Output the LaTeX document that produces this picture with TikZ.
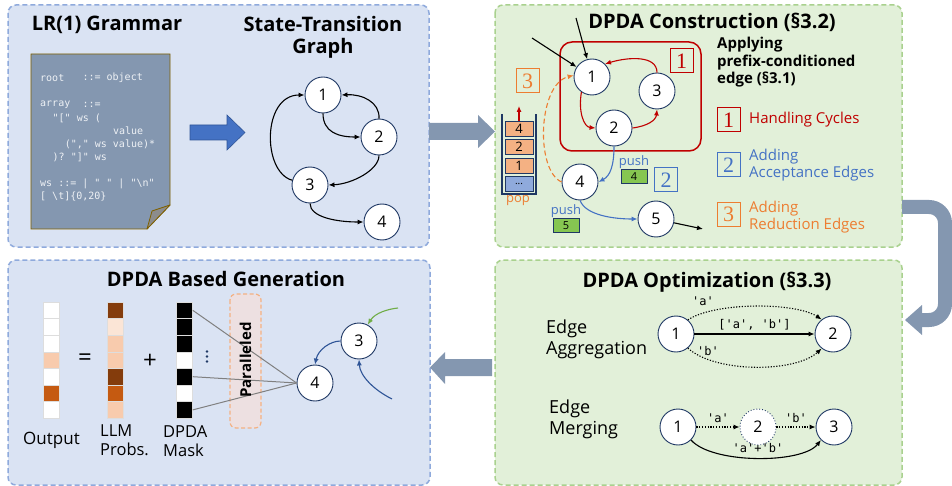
\documentclass[tikz,border=0pt]{standalone}
\usepackage{fontspec}
\setmainfont{Open Sans}
\setsansfont{Open Sans}
\setmonofont{DejaVu Sans Mono}
\newfontfamily\serifnum{Liberation Serif}
\usetikzlibrary{arrows.meta}

\definecolor{panelblue}{HTML}{DAE3F3}
\definecolor{edgeblue}{HTML}{8FAADC}
\definecolor{panelgreen}{HTML}{E2F0D9}
\definecolor{edgegreen}{HTML}{A9D18E}
\definecolor{slate}{HTML}{8497B0}
\definecolor{navy}{HTML}{1F3864}
\definecolor{cred}{HTML}{C00000}
\definecolor{cblue}{HTML}{4472C4}
\definecolor{dblue}{HTML}{2F5597}
\definecolor{corange}{HTML}{ED7D31}
\definecolor{lorange}{HTML}{F4B183}
\definecolor{pushgreen}{HTML}{86C651}
\definecolor{leafgreen}{HTML}{70AD47}
\definecolor{dkbrown}{HTML}{843C0C}
\definecolor{mdorange}{HTML}{C55A11}
\definecolor{ltorange}{HTML}{F8CBAD}
\definecolor{paleorange}{HTML}{FBE5D6}
\definecolor{gold}{HTML}{7F6000}
\definecolor{codewhite}{HTML}{EEF1F5}
\definecolor{cellline}{HTML}{DDDDDD}
\definecolor{parfill}{HTML}{EDE0E1}

\tikzset{
  bpanel/.style={draw=edgeblue, fill=panelblue, line width=1.5pt, dash pattern=on 5pt off 3pt, rounded corners=8pt},
  gpanel/.style={draw=edgegreen, fill=panelgreen, line width=1.5pt, dash pattern=on 5pt off 3pt, rounded corners=8pt},
  ttl/.style={font=\bfseries\fontsize{20}{22}\selectfont, align=center, inner sep=0pt},
  st/.style={circle, draw=navy, fill=white, line width=0.9pt, minimum size=36pt, inner sep=0pt, font=\fontsize{16}{16}\selectfont},
  arr/.style={line width=1.1pt, -{Latex[length=6pt,width=5pt]}},
  dotarr/.style={arr, dash pattern=on 1.2pt off 1.6pt},
  code/.style={anchor=west, inner sep=0pt, text=codewhite, font=\ttfamily\fontsize{10}{10}\selectfont},
  numbox/.style={draw=#1, text=#1, line width=1pt, minimum width=23pt, minimum height=24pt, inner sep=0pt, font=\serifnum\fontsize{22}{22}\selectfont},
  chip/.style={draw=navy, fill=pushgreen, line width=0.8pt, minimum width=26pt, minimum height=14pt, inner sep=0pt, font=\fontsize{11}{11}\selectfont},
  cell/.style={draw=navy, fill=#1, line width=0.8pt, minimum width=28pt, minimum height=15pt, inner sep=0pt, font=\fontsize{13}{13}\selectfont},
  vcell/.style={minimum width=16pt, minimum height=16.6pt, inner sep=0pt, draw=cellline, line width=0.5pt, fill=#1},
  lbl/.style={font=\fontsize{15}{19}\selectfont, align=left, inner sep=0pt},
  mono/.style={font=\ttfamily\fontsize{12}{12}\selectfont, inner sep=0pt},
}

\begin{document}
\begin{tikzpicture}[x=1pt,y=-1pt]
\useasboundingbox (0,0) rectangle (952,486);

% ---------- panels ----------
\draw[bpanel] (8,5) rectangle (429,247);
\draw[gpanel] (495,5) rectangle (902,247);
\draw[bpanel] (8,260) rectangle (430,485);
\draw[gpanel] (495,260) rectangle (902,485);

% ---------- block arrows between panels ----------
\fill[slate] (429,123) -- (478,123) -- (478,115) -- (495,131.5) -- (478,148) -- (478,140) -- (429,140) -- cycle;
\draw[slate, line width=14pt, rounded corners=16pt] (902,207) -- (945,207) -- (945,320) -- (921,320);
\fill[slate] (922,305) -- (905,320) -- (922,335) -- cycle;
\fill[slate] (492,359) -- (445,359) -- (445,352) -- (430,367.5) -- (445,384) -- (445,376) -- (492,376) -- cycle;

% ---------- LR(1) grammar ----------
\node[ttl] (tgram) at (107,25) {LR(1) Grammar};
\node[ttl] (tgraph) at (323,37.5) {State-Transition\\Graph};

\draw[gold, fill=slate, line width=0.8pt] (31,54) -- (170,54) -- (170,205) -- (147,229) -- (31,229) -- cycle;
\draw[gold, fill=black!45, line width=0.8pt, line join=round] (147,229) -- (152,211) -- (170,205) -- cycle;

\node[code] (c1a) at (40,78) {root};
\node[code] (c1b) at (82.4,78) {::= object};
\node[code] (c2a) at (40,105) {array};
\node[code] (c2b) at (82.4,105) {::=};
\node[code] (c3) at (52.5,118) {"[" ws (};
\node[code] (c4) at (112.8,131) {value};
\node[code] (c5) at (64.6,144) {("," ws value)*};
\node[code] (c6) at (52.5,157) {)? "]" ws};
\node[code] (c7) at (40,184) {ws ::= | " " | "\textbackslash n"};
\node[code] (c8) at (40,197) {[ \textbackslash t]\{0,20\}};

\fill[cblue, draw=dblue, line width=0.6pt] (190,125) -- (227,125) -- (227,115) -- (245,132.5) -- (227,150) -- (227,140) -- (190,140) -- cycle;

% state-transition graph
\node[st] (a1) at (323,95) {1};
\node[st] (a2) at (379,137) {2};
\node[st] (a3) at (310,185) {3};
\node[st] (a4) at (382,222) {4};
\draw[arr] (a1.south) .. controls (323,132) and (338,137) .. (a2.west);
\draw[arr] (a2.north) .. controls (380,102) and (362,94) .. (a1.east);
\draw[arr] (a2.south) .. controls (379,170) and (352,184) .. (a3.east);
\draw[arr] (a3.165) .. controls (262,172) and (262,95) .. (a1.west);
\draw[arr] (a3.south) .. controls (310,217) and (336,222) .. (a4.west);

% ---------- DPDA construction ----------
\node[ttl] (tcons) at (712,22) {DPDA Construction (§3.2)};
\draw[cred, line width=1.5pt, rounded corners=12pt] (560,42) rectangle (701,151);
\node[numbox=cred] (r1) at (681.5,61) {1};

\node[st] (b1) at (592,77) {1};
\node[st] (b3) at (657,91) {3};
\node[st] (b2) at (614,128) {2};
\node[st] (b4) at (580,182) {4};
\node[st] (b5) at (656,219) {5};

\coordinate (in1) at (532,38);
\coordinate (in2) at (576,18);
\coordinate (out5) at (703,229);
\draw[arr] (in1) -- (b1);
\draw[arr] (in2) -- (b1);
\draw[arr] (b5) -- (out5);

\draw[arr, cred] (b3.north) .. controls (657,55) and (628,57) .. (b1.45);
\draw[arr, cred] (b1.235) .. controls (578,112) and (584,127) .. (b2.west);
\draw[arr, cred] (b2.east) .. controls (648,126) and (656,120) .. (b3.south);
\draw[arr, cblue] (b2.south) .. controls (614,166) and (610,176) .. (b4.east);
\draw[arr, cblue] (b4.south) .. controls (586,216) and (616,219) .. (b5.west);
\draw[arr, corange, dash pattern=on 5pt off 3pt] (b4.west) .. controls (535,170) and (538,84) .. (b1.175);

\node[font=\fontsize{13}{13}\selectfont, text=cblue, inner sep=0pt] (push4) at (634,162) {push};
\node[chip] (g4chip) at (634,176.5) {4};
\node[font=\fontsize{13}{13}\selectfont, text=cblue, inner sep=0pt] (push5) at (566,211) {push};
\node[chip] (g5chip) at (566,225.5) {5};
\node[numbox=cblue] (bx2) at (666,180) {2};
\node[numbox=corange] (bx3) at (527.5,81) {3};

% stack
\draw[navy, line width=1.3pt] (502,114) -- (502,194) -- (536,194) -- (536,114);
\node[cell=lorange] (s4) at (519,128.5) {4};
\node[cell=lorange] (s2) at (519,146.5) {2};
\node[cell=lorange] (s1) at (519,165.5) {1};
\node[cell=edgeblue] (s0) at (519,183.5) {\fontsize{10}{10}\selectfont\raisebox{-2pt}{...}};
\coordinate (popto) at (519,106);
\draw[arr, cred] (s4.north) -- (popto);
\node[font=\fontsize{13}{13}\selectfont, text=corange, inner sep=0pt] (pop) at (518,201) {pop};

% legend
\node[font=\bfseries\fontsize{15}{17.5}\selectfont, align=left, anchor=north west, inner sep=0pt] (apply) at (717,37) {Applying\\prefix-conditioned\\edge (§3.1)};
\node[numbox=cred] (l1) at (728.5,120) {1};
\node[lbl, text=cred, anchor=west] (l1t) at (749,120) {Handling Cycles};
\node[numbox=cblue] (l2) at (728.5,165) {2};
\node[lbl, text=cblue, anchor=west, font=\fontsize{15}{17}\selectfont] (l2t) at (749,165) {Adding\\Acceptance Edges};
\node[numbox=corange] (l3) at (728.5,214.5) {3};
\node[lbl, text=corange, anchor=west, font=\fontsize{15}{17}\selectfont] (l3t) at (749,217) {Adding\\Reduction Edges};

% ---------- DPDA based generation ----------
\node[ttl] (tgen) at (226,279) {DPDA Based Generation};
\foreach \c [count=\i] in {white,white,white,ltorange,white,mdorange,white}
  \node[vcell=\c] (o\i) at (51,{302+8.3+(\i-1)*16.6}) {};
\foreach \c [count=\i] in {dkbrown,paleorange,ltorange,ltorange,dkbrown,mdorange,ltorange}
  \node[vcell=\c] (p\i) at (115,{302+8.3+(\i-1)*16.6}) {};
\foreach \c [count=\i] in {black,black,black,white,black,white,black}
  \node[vcell=\c] (m\i) at (184.5,{302+8.3+(\i-1)*16.6}) {};
\node[font=\fontsize{24}{24}\selectfont, inner sep=0pt] (eq) at (85,360) {=};
\node[font=\fontsize{24}{24}\selectfont, inner sep=0pt] (plus) at (150,361) {+};
\foreach \yy in {351.5,356.5,361.5} \fill[navy] (207,\yy) circle (1.3pt);

\draw[corange!60, fill=parfill, dash pattern=on 4pt off 2.5pt, line width=1.2pt, rounded corners=6pt] (230,294) rectangle (261,428);

\node[st] (g4) at (315,383) {4};
\node[st] (g3) at (359,341) {3};
\draw[black!50, line width=1pt] (m1.east) -- (g4.west);
\draw[black!50, line width=1pt] (m5.east) -- (g4.west);
\draw[black!50, line width=1pt] (m7.east) -- (g4.west);
\node[rotate=90, font=\bfseries\fontsize{15}{15}\selectfont, inner sep=0pt] (par) at (245.5,360) {Paralleled};

\coordinate (gin) at (398,308);
\coordinate (bin) at (392,399);
\draw[arr, leafgreen] (gin) .. controls (388,309) and (375,313) .. (g3.62);
\draw[arr, dblue] (g3.west) .. controls (330,341) and (318,350) .. (g4.north);
\draw[arr, dblue] (bin) .. controls (374,390) and (360,376) .. (g3.south);

\node[lbl, font=\fontsize{17}{19}\selectfont] (lout) at (51.5,440) {Output};
\node[lbl, font=\fontsize{16.5}{19}\selectfont, anchor=north west] (lllm) at (100,425) {LLM\\Probs.};
\node[lbl, font=\fontsize{16.5}{19}\selectfont, anchor=north west] (lmask) at (163,425) {DPDA\\Mask};

% ---------- DPDA optimization ----------
\node[ttl] (topt) at (707,282) {DPDA Optimization (§3.3)};
\node[lbl, font=\fontsize{18}{21}\selectfont, anchor=west] (lagg) at (546,339.5) {Edge\\Aggregation};
\node[st] (o1n) at (676,334) {1};
\node[st] (o2n) at (833,334) {2};
\draw[arr] (o1n) -- (o2n) node[midway, above=3pt, mono] (lab) {['a', 'b']};
\draw[dotarr] (o1n.50) .. controls (715,302) and (795,302) .. (o2n.128) ;
\draw[dotarr] (o1n.-50) .. controls (715,373) and (795,373) .. (o2n.-128);
\node[mono] (la) at (703,301) {'a'};
\node[mono] (lb) at (708,351) {'b'};

\node[lbl, font=\fontsize{18}{21}\selectfont, anchor=west] (lmerge) at (549,419.5) {Edge\\Merging};
\node[st] (q1) at (678,427) {1};
\node[st, dotted] (q2) at (758,427) {2};
\node[st] (q3) at (834,427) {3};
\draw[dotarr] (q1) -- (q2) node[midway, above=4pt, mono] (qa) {'a'};
\draw[dotarr] (q2) -- (q3) node[midway, above=4pt, mono] (qb) {'b'};
\draw[arr] (q1.-45) .. controls (712,464) and (802,464) .. (q3.-135);
\node[mono] (qab) at (758,448) {'a'+'b'};
\end{tikzpicture}
\end{document}
